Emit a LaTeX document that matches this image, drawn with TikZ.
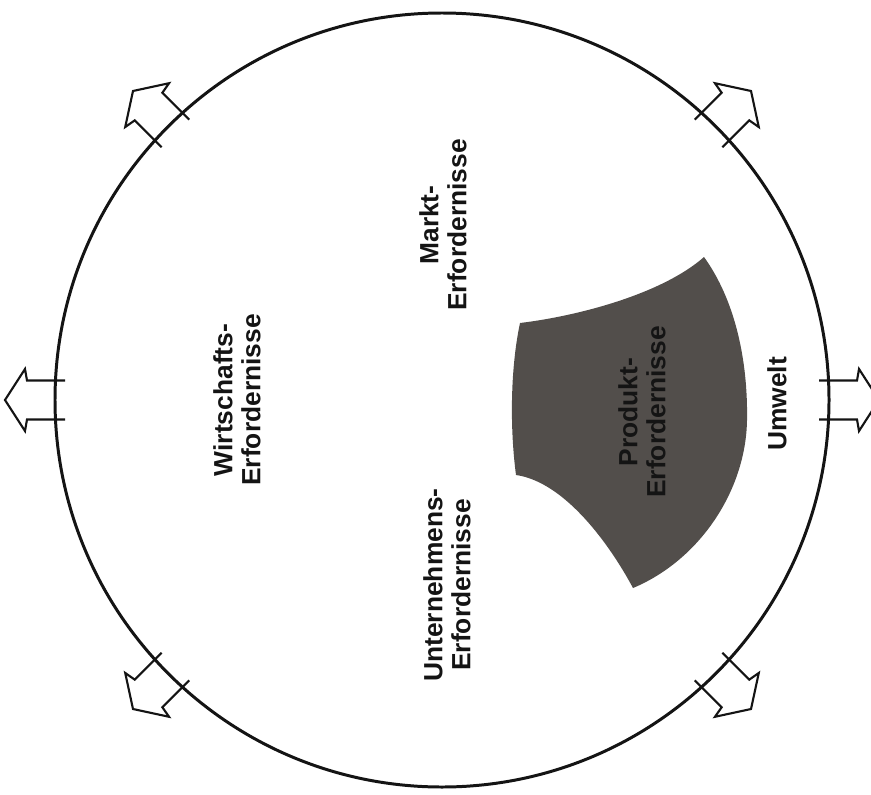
\documentclass[tikz,border=0pt]{standalone}
\usepackage{fontspec}
\setmainfont{Liberation Sans}
\usetikzlibrary{positioning}
\definecolor{ink}{HTML}{141414}
\definecolor{blob}{HTML}{524E4B}
\tikzset{ring/.style={draw=ink, line width=1.7pt}, outarrow/.style={draw=ink, line width=1.2pt, line join=miter}, lab/.style={font=\bfseries\fontsize{15}{16}\selectfont, text=ink, rotate=90, align=center}, blobshape/.style={fill=blob, draw=none}}

\begin{document}
\begin{tikzpicture}[x=0.02cm,y=-0.02cm]
\useasboundingbox (0,0) rectangle (871,794);
\clip (0,0) rectangle (871,794);
\coordinate (m) at (442,400);
\draw[ring] (m) circle[radius=387];
% six open arrows through the ring
\foreach \a in {0,45,135,180,225,315}{
  \begin{scope}[shift={(m)},rotate=\a]
  \draw[outarrow] (377,-19.5) -- (415,-19.5) -- (417,-31) -- (437,0) -- (417,31) -- (415,19.5) -- (377,19.5);
  \end{scope}}
\fill[blobshape] (520,323) .. controls (578,316) and (662,294) .. (704,257) .. controls (735,300) and (748,360) .. (747,420) .. controls (746,490) and (700,560) .. (633,588) .. controls (610,545) and (565,482) .. (516,475) .. controls (510,430) and (510,370) .. (520,323) -- cycle;
\node[lab] (wirt) at (237,400) {Wirtschafts-\\Erfordernisse};
\node[lab] (markt) at (443,225) {Markt-\\Erfordernisse};
\node[lab] (untern) at (447,585) {Unternehmens-\\Erfordernisse};
\node[lab] (prod) at (642,412) {Produkt-\\Erfordernisse};
\node[lab] (umw) at (777,404) {Umwelt};
\end{tikzpicture}
\end{document}
